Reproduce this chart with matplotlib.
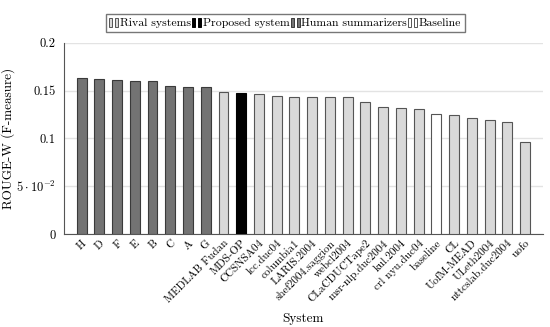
import numpy as np
import matplotlib
matplotlib.use("Agg")
import matplotlib.pyplot as plt
from matplotlib.patches import Patch
from matplotlib.legend_handler import HandlerTuple

plt.rcParams['font.family'] = ['cmr10', 'DejaVu Serif']
plt.rcParams['mathtext.fontset'] = 'cm'
plt.rcParams['axes.formatter.use_mathtext'] = True

# ------------------- Data -------------------
systems = ['H', 'D', 'F', 'E', 'B', 'C', 'A', 'G',
           'MEDLAB Fudan', 'MDS-OP', 'CCSNSA04', 'lcc.duc04', 'columbia1',
           'LARIS.2004', 'shef2004.saggion', 'webcl2004', 'CLaCDUCTape2',
           'msr-nlp.duc2004', 'kul.2004', 'crl nyu.duc04', 'baseline', 'CL',
           'UofM-MEAD', 'ULeth2004', 'nttcslab.duc2004', 'uofo']
scores = [0.163, 0.162, 0.161, 0.160, 0.160, 0.155, 0.154, 0.154,
          0.149, 0.148, 0.147, 0.144, 0.143,
          0.143, 0.143, 0.143, 0.138,
          0.133, 0.132, 0.131, 0.126, 0.125,
          0.121, 0.119, 0.117, 0.096]
groups = ['human'] * 8 + ['rival'] + ['proposed'] + ['rival'] * 10 + ['baseline'] + ['rival'] * 5

group_names = {'rival': 'Rival systems', 'proposed': 'Proposed system',
               'human': 'Human summarizers', 'baseline': 'Baseline'}
face = {'rival': '#d9d9d9', 'proposed': '#000000', 'human': '#737373', 'baseline': '#ffffff'}
edge = {'rival': '#555555', 'proposed': '#000000', 'human': '#3a3a3a', 'baseline': '#555555'}

# ------------------- Plot -------------------
fig = plt.figure(figsize=(5.5, 3.27), dpi=100)
ax = fig.add_axes([0.116, 0.284, 0.871, 0.585])

x = np.arange(len(systems))
ax.bar(x, scores, width=0.56,
       color=[face[g] for g in groups],
       edgecolor=[edge[g] for g in groups], linewidth=0.8, zorder=3)

ax.set_xlim(-1, len(systems))
ax.set_ylim(0, 0.2)
ax.set_yticks([0, 0.05, 0.1, 0.15, 0.2])
ax.set_yticklabels(['0', r'$5\cdot10^{-2}$', '0.1', '0.15', '0.2'])
ax.set_xticks(x)
ax.set_xticklabels(systems, rotation=45, ha='right', rotation_mode='anchor')
ax.tick_params(axis='x', direction='in', length=3, labelsize=8, pad=3, color='#555555')
ax.tick_params(axis='y', length=0, labelsize=9, pad=6)

ax.grid(axis='y', color='#e3e3e3', linewidth=1.0, zorder=0)
ax.spines['top'].set_visible(False)
ax.spines['right'].set_visible(False)
ax.spines['left'].set_color('#555555')
ax.spines['bottom'].set_color('#555555')

ax.set_xlabel('System', fontsize=9.5, labelpad=6)
ax.set_ylabel('ROUGE-W (F-measure)', fontsize=9.5)
ax.yaxis.set_label_coords(-0.102, 0.5)

# ------------------- Legend -------------------
handles = []
labels = []
for g in ['rival', 'proposed', 'human', 'baseline']:
    p = Patch(facecolor=face[g], edgecolor=edge[g], linewidth=0.7)
    handles.append((p, p))
    labels.append(group_names[g])
fig.legend(handles, labels, loc='center', bbox_to_anchor=(0.519, 0.93),
           ncol=4, fontsize=8.5, frameon=True, fancybox=False, edgecolor='#555555',
           handler_map={tuple: HandlerTuple(ndivide=None, pad=0.25)},
           handlelength=0.75, handleheight=0.8, handletextpad=0.15,
           columnspacing=0.1, borderpad=0.3, borderaxespad=0.2)

plt.savefig('out.png', dpi=100)
